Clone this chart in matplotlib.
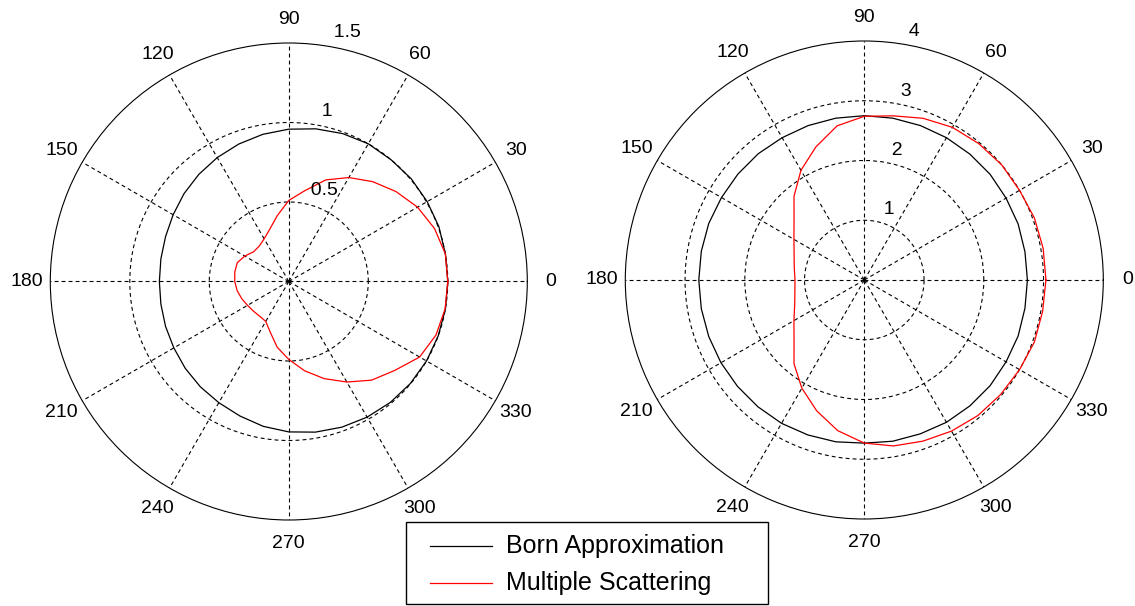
import numpy as np
import matplotlib
matplotlib.use("Agg")
import matplotlib.pyplot as plt
from matplotlib.patches import Rectangle
from matplotlib.lines import Line2D

plt.rcParams['font.family'] = ['Liberation Sans', 'DejaVu Sans']

# ---------------- data ----------------
angles_deg = [0, 10, 20, 30, 40, 50, 60, 70, 80, 90, 100, 110,
              120, 130, 140, 150, 160, 170, 180, 190, 200, 210, 220, 230,
              240, 250, 260, 270, 280, 290, 300, 310, 320, 330, 340, 350]

# left panel
born_left = [1.00, 1.00, 1.005, 1.005, 1.005, 1.00, 1.00, 0.99, 0.975, 0.958, 0.94, 0.92,
             0.90, 0.88, 0.86, 0.84, 0.825, 0.817, 0.814, 0.817, 0.825, 0.835, 0.85, 0.865,
             0.88, 0.90, 0.925, 0.946, 0.962, 0.975, 0.985, 0.993, 0.998, 1.00, 1.00, 1.00]
ms_left = [1.00, 1.00, 0.975, 0.935, 0.88, 0.82, 0.755, 0.68, 0.58, 0.51, 0.42, 0.35,
           0.31, 0.29, 0.29, 0.32, 0.345, 0.345, 0.34, 0.33, 0.315, 0.30, 0.29, 0.285,
           0.29, 0.34, 0.42, 0.49, 0.57, 0.65, 0.73, 0.81, 0.87, 0.95, 0.985, 0.998]

# right panel
born_right = [2.73, 2.73, 2.74, 2.74, 2.75, 2.75, 2.75, 2.75, 2.75, 2.75, 2.75, 2.75,
              2.75, 2.76, 2.76, 2.76, 2.77, 2.77, 2.77, 2.77, 2.77, 2.77, 2.77, 2.77,
              2.77, 2.76, 2.75, 2.73, 2.74, 2.74, 2.75, 2.75, 2.75, 2.74, 2.74, 2.73]
ms_right = [3.04, 3.04, 3.03, 3.00, 3.00, 2.98, 2.95, 2.88, 2.79, 2.74, 2.62, 2.37,
            2.12, 1.83, 1.535, 1.36, 1.25, 1.19, 1.16, 1.18, 1.24, 1.36, 1.535, 1.83,
            2.09, 2.33, 2.56, 2.73, 2.82, 2.87, 2.92, 2.96, 2.98, 3.00, 3.03, 3.03]

theta_labels = ['0', '30', '60', '90', '120', '150', '180', '210', '240', '270', '300', '330']
left_rings = [0.5, 1.0, 1.5]
right_rings = [1, 2, 3, 4]
legend_labels = ['Born Approximation', 'Multiple Scattering']
series_colors = ['black', 'red']

# ---------------- figure ----------------
W, H = 1135, 606
fig = plt.figure(figsize=(W / 100, H / 100), dpi=100)
fig.patch.set_facecolor('white')

grid_ls = (0, (3.5, 2.8))


def make_polar(cx, cy, rad_px, rings, born, ms):
    ax = fig.add_axes([(cx - rad_px) / W, (H - cy - rad_px) / H,
                       2 * rad_px / W, 2 * rad_px / H], projection='polar')
    rmax = rings[-1]
    th = np.deg2rad(np.array(angles_deg + [angles_deg[0]]))
    ax.plot(th, np.array(born + [born[0]]), color=series_colors[0], lw=0.9, zorder=3)
    ax.plot(th, np.array(ms + [ms[0]]), color=series_colors[1], lw=0.9, zorder=4)
    ax.set_ylim(0, rmax)
    ax.set_xticks(np.deg2rad(np.arange(0, 360, 30)))
    ax.set_xticklabels([])
    ax.set_yticks(rings[:-1])
    ax.set_yticklabels([])
    ax.tick_params(length=0)
    ax.grid(True, color='black', linestyle=grid_ls, linewidth=0.8)
    ax.spines['polar'].set_color('black')
    ax.spines['polar'].set_linewidth(0.8)
    # angle labels
    for k, lab in enumerate(theta_labels):
        ang = np.deg2rad(30 * k)
        ax.text(ang, 1.1 * rmax, lab, ha='center', va='center', fontsize=14,
                clip_on=False)
    # ring labels (MATLAB style, at 82 degrees)
    rinc = rings[1] - rings[0]
    for ri in rings:
        lab = ('%g' % ri)
        ax.text(np.deg2rad(82), ri + rinc / 20, '  ' + lab, ha='left', va='bottom',
                fontsize=14, clip_on=False, zorder=5)
    return ax


axL = make_polar(288.8, 281.5, 238.5, left_rings, born_left, ms_left)
axR = make_polar(864.3, 280.0, 239.0, right_rings, born_right, ms_right)

# ---------------- legend ----------------
x0, x1 = 406, 768
y0, y1 = 522, 604
fig.add_artist(Rectangle((x0 / W, 1 - y1 / H), (x1 - x0) / W, (y1 - y0) / H,
                         transform=fig.transFigure, facecolor='white',
                         edgecolor='black', linewidth=1.0, zorder=10))
rows_y = [545.7, 583.3]
for lab, col, yy in zip(legend_labels, series_colors, rows_y):
    fig.add_artist(Line2D([430 / W, 492 / W], [1 - yy / H, 1 - yy / H],
                          transform=fig.transFigure, color=col, lw=0.9, zorder=11))
    fig.text(506 / W, 1 - yy / H, lab, ha='left', va='center', fontsize=18, zorder=11)

fig.savefig('out.png', dpi=100, facecolor='white')
